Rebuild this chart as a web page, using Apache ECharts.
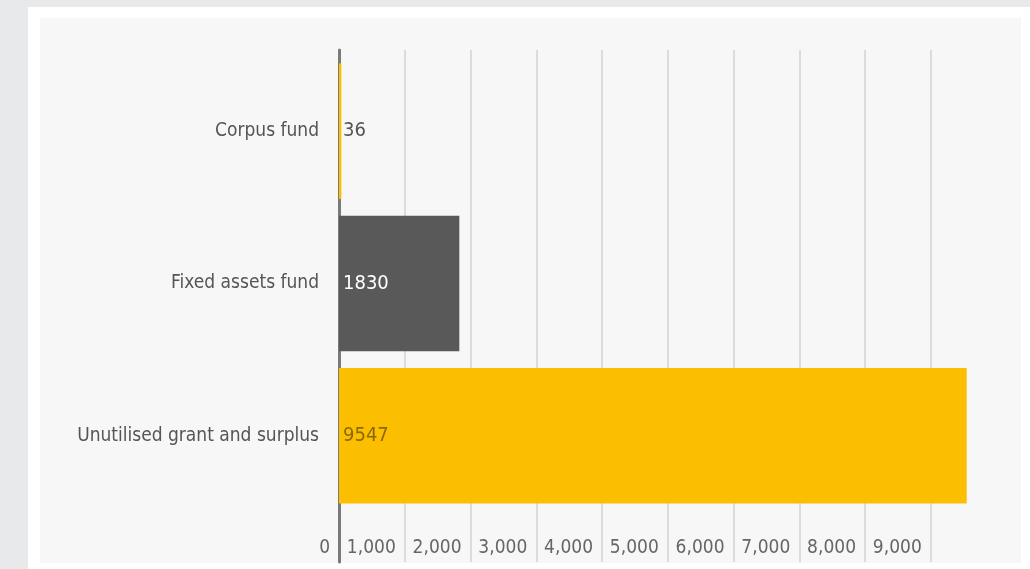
<!DOCTYPE html>
<html>
<head>
<meta charset="utf-8">
<script src="https://cdn.jsdelivr.net/npm/echarts@6/dist/echarts.min.js"></script>
<style>
  html, body { margin: 0; padding: 0; width: 1030px; height: 569px; overflow: hidden; background: #e8e9eb; }
  #card { position: absolute; left: 28px; top: 7px; right: 0; bottom: -20px; background: #ffffff; }
  #panel { position: absolute; left: 40px; top: 18px; width: 981px; height: 545px; background: #f7f7f7; }
  #chart { position: absolute; left: 0; top: 0; width: 1030px; height: 569px; }
</style>
</head>
<body>
<div id="card"></div>
<div id="panel"></div>
<div id="chart"></div>
<script>
const categories = ["Corpus fund", "Fixed assets fund", "Unutilised grant and surplus"];
const values = [36, 1830, 9547];
const tickLabels = ["0", "1,000", "2,000", "3,000", "4,000", "5,000", "6,000", "7,000", "8,000", "9,000"];

const barColors = ["#fbbe00", "#595959", "#fbbe00"];
const valueColors = ["#555555", "#ffffff", "#8a6a00"];
const font = '"Liberation Sans Narrow", "DejaVu Sans Condensed", "Liberation Sans", sans-serif';

let myChart = echarts.init(document.getElementById("chart"));
myChart.setOption({
  animation: false,
  grid: [
    { left: 339, right: 33.5, top: 55, bottom: 57 },
    { left: 339, right: 33.5, top: 50, bottom: 7 },
  ],
  xAxis: [
    {
      gridIndex: 0,
      type: "value",
      min: 0,
      max: 10000,
      interval: 1000,
      show: false,
    },
    {
      gridIndex: 1,
      type: "value",
      min: 0,
      max: 10000,
      interval: 1000,
      axisLine: { show: false },
      axisTick: { show: false },
      splitLine: {
        show: true,
        showMinLine: false,
        showMaxLine: false,
        lineStyle: { color: "#dcdcdc", width: 2 },
      },
      axisLabel: {
        inside: true,
        margin: 4,
        align: "right",
        padding: [0, 9, 0, 0],
        showMaxLabel: false,
        color: "#666666",
        fontSize: 19,
        fontFamily: font,
        formatter: function (v) {
          return tickLabels[Math.round(v / 1000)] || "";
        },
      },
    },
  ],
  yAxis: [
    {
      gridIndex: 0,
      type: "category",
      inverse: true,
      data: categories,
      axisLine: { show: false },
      axisTick: { show: false },
      splitLine: { show: false },
      axisLabel: {
        margin: 20,
        color: "#555555",
        fontSize: 19,
        fontFamily: font,
      },
    },
    {
      gridIndex: 1,
      type: "value",
      min: 0,
      max: 1,
      offset: 2,
      axisLine: { show: true, lineStyle: { color: "#7a7a7a", width: 3 } },
      axisTick: { show: false },
      axisLabel: { show: false },
      splitLine: { show: false },
    },
  ],
  series: [
    {
      type: "bar",
      xAxisIndex: 0,
      yAxisIndex: 0,
      barWidth: "89%",
      data: values.map(function (v, i) {
        return {
          value: v,
          itemStyle: { color: barColors[i] },
          label: { color: valueColors[i] },
        };
      }),
      label: {
        show: true,
        position: "insideLeft",
        distance: 4,
        fontSize: 20,
        fontFamily: font,
      },
    },
  ],
});
</script>
</body>
</html>
